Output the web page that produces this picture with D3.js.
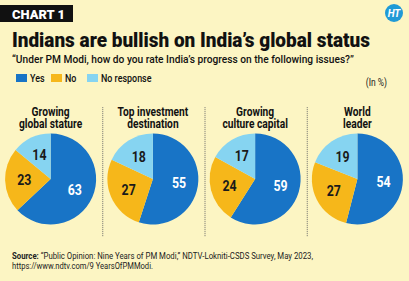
<!DOCTYPE html>
<html>
<head>
<meta charset="utf-8">
<script src="https://cdn.jsdelivr.net/npm/d3@7"></script>
<style>
  body { margin: 0; background: #fcf5c3; }
  svg { display: block; }
  text { font-family: Roboto, "Open Sans", sans-serif; }
</style>
</head>
<body>
<svg id="chart" width="409" height="281"></svg>
<script>
const categories = ["Growing global stature", "Top investment destination", "Growing culture capital", "World leader"];
const categoryLines = [["Growing", "global stature"], ["Top investment", "destination"], ["Growing", "culture capital"], ["World", "leader"]];
const responses = ["Yes", "No", "No response"];
const yesValues = [63, 55, 59, 54];
const noValues = [23, 27, 24, 27];
const noResponseValues = [14, 18, 17, 19];

const colors = { "Yes": "#1874c6", "No": "#f6b71a", "No response": "#86d4f1" };
const labelColors = { "Yes": "#ffffff", "No": "#1a1a1a", "No response": "#1a1a1a" };

const W = 409, H = 281;
const svg = d3.select("#chart");

// squeeze a text to look like the condensed face of the original
function squeeze(sel, k) {
    sel.each(function () {
        const w = this.getComputedTextLength();
        d3.select(this).attr("textLength", w * k).attr("lengthAdjust", "spacingAndGlyphs");
    });
}

svg.append("rect").attr("width", W).attr("height", H).attr("fill", "#fcf5c3");

// header tag
svg.append("rect").attr("x", 0).attr("y", 5).attr("width", 73).attr("height", 17).attr("fill", "#111");
svg.append("text").attr("x", 12).attr("y", 18.5)
    .attr("fill", "#fff").attr("font-size", 13.5).attr("font-weight", "900")
    .text("CHART 1")
    .attr("textLength", 53).attr("lengthAdjust", "spacingAndGlyphs");

// logo
svg.append("circle").attr("cx", 394).attr("cy", 13).attr("r", 9).attr("fill", "#1f9ad6");
svg.append("text").attr("x", 394).attr("y", 16.5).attr("text-anchor", "middle")
    .attr("fill", "#fff").attr("font-size", 10).attr("font-weight", "bold")
    .attr("font-family", "Liberation Serif, serif").attr("font-style", "italic")
    .text("HT");

svg.append("text").attr("x", 12).attr("y", 46.5)
    .attr("fill", "#111").attr("font-size", 21).attr("font-weight", "900")
    .text("Indians are bullish on India\u2019s global status")
    .attr("textLength", 358).attr("lengthAdjust", "spacingAndGlyphs");

svg.append("text").attr("x", 12).attr("y", 63)
    .attr("fill", "#111").attr("font-size", 10.5).attr("font-weight", "500")
    .text("\u201cUnder PM Modi, how do you rate India\u2019s progress on the following issues?\u201d")
    .attr("textLength", 342).attr("lengthAdjust", "spacingAndGlyphs");

// legend
const legendX = d3.scaleOrdinal().domain(responses).range([16, 51, 87]);
const legend = svg.append("g").classed("legend", true)
    .selectAll("g")
    .data(responses)
    .enter()
    .append("g")
    .attr("transform", d => `translate(${legendX(d)}, 74)`);
legend.append("rect").attr("width", 11).attr("height", 8).attr("fill", d => colors[d]);
legend.append("text").attr("x", 14).attr("y", 8)
    .attr("font-size", 10.5).attr("font-weight", "500").attr("fill", "#111").text(d => d)
    .call(squeeze, 0.85);

svg.append("text").attr("x", 387).attr("y", 86).attr("text-anchor", "end")
    .attr("font-size", 10).attr("fill", "#222").text("(In %)")
    .call(squeeze, 0.85);

// panels
const xScale = d3.scaleBand()
    .domain(categories)
    .range([0, W]);

const radius = 45.5;
const pie = d3.pie().sort(null).value(d => d.value);
const arc = d3.arc().innerRadius(0).outerRadius(radius);
const labelArc = d3.arc().innerRadius(radius * 0.58).outerRadius(radius * 0.58);

categories.forEach((cat, i) => {
    const cx = xScale(cat) + xScale.bandwidth() / 2 - 0.5;
    const g = svg.append("g").attr("transform", `translate(${cx}, 0)`);

    g.selectAll(".ttl")
        .data(categoryLines[i])
        .enter()
        .append("text")
        .attr("text-anchor", "middle")
        .attr("y", (d, j) => 115.5 + j * 12.5)
        .attr("font-size", 12).attr("font-weight", "bold").attr("fill", "#111")
        .text(d => d)
        .call(squeeze, 0.85);

    const data = [
        { key: "Yes", value: yesValues[i] },
        { key: "No", value: noValues[i] },
        { key: "No response", value: noResponseValues[i] }
    ];
    const pg = g.append("g").attr("transform", "translate(0, 179)");
    pg.selectAll("path")
        .data(pie(data))
        .enter()
        .append("path")
        .attr("d", arc)
        .attr("fill", d => colors[d.data.key]);
    pg.selectAll("text")
        .data(pie(data))
        .enter()
        .append("text")
        .attr("transform", d => `translate(${labelArc.centroid(d)})`)
        .attr("text-anchor", "middle")
        .attr("dy", "0.36em")
        .attr("font-size", 14).attr("font-weight", "bold")
        .attr("fill", d => labelColors[d.data.key])
        .text(d => d.data.value)
        .call(squeeze, 0.88);

    if (i > 0) {
        svg.append("line")
            .attr("x1", xScale(cat) + 0.5).attr("x2", xScale(cat) + 0.5)
            .attr("y1", 107).attr("y2", 237)
            .attr("stroke", "#666").attr("stroke-width", 0.8)
            .attr("stroke-dasharray", "1.2,0.8");
    }
});

// source
const src = svg.append("text").attr("x", 12).attr("y", 259).attr("font-size", 8.5).attr("fill", "#222");
src.append("tspan").attr("font-weight", "bold").text("Source: ");
src.append("tspan").text("\u201cPublic Opinion: Nine Years of PM Modi,\u201d NDTV-Lokniti-CSDS Survey, May 2023,");
src.attr("textLength", 301).attr("lengthAdjust", "spacingAndGlyphs");
svg.append("text").attr("x", 12).attr("y", 269).attr("font-size", 8.5).attr("fill", "#222")
    .text("https://www.ndtv.com/9 YearsOfPMModi.")
    .attr("textLength", 141).attr("lengthAdjust", "spacingAndGlyphs");
</script>
</body>
</html>
